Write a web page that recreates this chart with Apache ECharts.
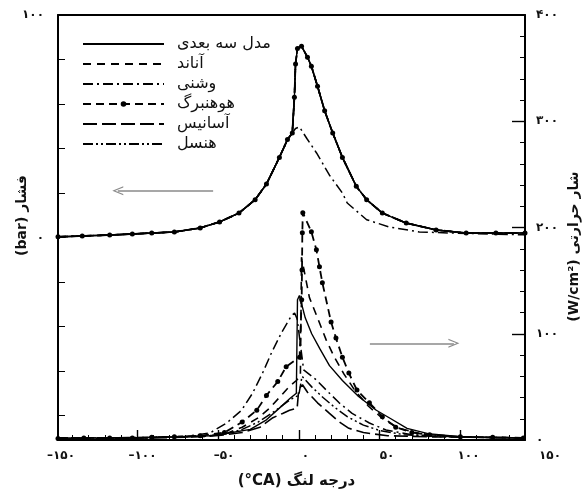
<!DOCTYPE html>
<html><head><meta charset="utf-8">
<script src="https://cdn.jsdelivr.net/npm/echarts@6/dist/echarts.min.js"></script>
<style>html,body{margin:0;padding:0;background:#fff}#c{width:584px;height:496px}</style>
</head><body><div id="c"></div>
<script>
// ---- tick labels / names ----
const xTickLabels = [-150, -100, -50, 0, 50, 100, 150];
const xMinorTicks = [-140,-130,-120,-110,-100,-90,-80,-70,-60,-50,-40,-30,-20,-10,0,10,20,30,40,50,60,70,80,90,100,110,120,130];
const xMajorTicks = [-100, -50, 0, 50, 100];
const pressureTicks = [-80,-60,-40,-20,0,20,40,60,80,100];
const pressureTickLabels = [0, 100];
const fluxMinorTicks = [20,40,60,80,120,140,160,180,220,240,260,280,320,340,360,380];
const fluxMajorTicks = [100, 200, 300];
const fluxTickLabels = [0, 100, 200, 300, 400];
const legendNames = ['مدل سه بعدی', 'آناند', 'وشنی', 'هوهنبرگ', 'آسانیس', 'هنسل'];
const xName = '(°CA) درجه لنگ';
const pressureName = '(bar) فشار';
const fluxName = '(W/cm²) شار حرارتی';

// ---- pressure (bar) vs crank angle ----
const pressureMain = [[-149,0.3],[-134,0.7],[-117,1.1],[-103,1.6],[-91,2.0],[-77,2.5],[-61,4.3],[-49,7],[-37,11],[-27,17],[-20,24],[-12,36],[-7,44],[-4,47],[-2.7,63],[-2,78],[-0.8,85],[1.7,86],[5.4,81],[7.8,77],[11.6,68],[16,57],[21,47],[27,36],[35.6,23],[42,17],[51.7,11],[66.5,6.5],[85,3.4],[103.6,2],[122,2],[140,2]];
const pressureWoschni = [[-149,0.3],[-134,0.7],[-117,1.1],[-103,1.6],[-91,2.0],[-77,2.5],[-61,4.3],[-49,7],[-37,11],[-27,17],[-20,24],[-12,36],[-7,44],[-4,47],[-2,49],[0.4,49.7],[5,44.5],[11,38],[19,28],[27,20],[30,15.5],[42,8],[56,4.7],[74.6,2.5],[95,2],[140,1.2]];

// ---- heat flux (W/cm2) vs crank angle ----
const flux3D = [[-149,2],[-120,2],[-90,2.5],[-70,3],[-55,4],[-43,6.6],[-30,10],[-20,19],[-12,30],[-5.5,39],[-1.5,44],[-1,45],[-0.8,132],[0.4,136],[4,115],[8,100],[13,86],[19,70],[27,56],[37,41],[48,28],[57,20],[67,11],[80,6],[100,3],[120,2],[139,2]];
const fluxAnnand = [[-149,2],[-120,2],[-90,2.5],[-70,3],[-55,4],[-45,6],[-35,12],[-25,21],[-18,30],[-12,40],[-6,50],[-1.5,56],[1,60],[1.7,172],[6.6,134],[11.6,115],[17,94],[22,78],[28,62],[35,46],[43,32],[52,20],[62,11],[75,6],[95,3],[139,2]];
const fluxWoschni = [[-149,2],[-120,2],[-90,2.5],[-70,3.5],[-55,6.6],[-44.6,16],[-35.4,28],[-28.6,44],[-22.4,63],[-16.9,82],[-10.7,101],[-4.5,117],[-2.6,119.5],[-1,114],[3,66],[10.9,56.5],[17,47],[25,35],[33,25],[43.7,16],[54,9.4],[70,5],[100,3],[139,2]];
const fluxHohenberg = [[-149,1.5],[-133,2],[-117,2],[-103,2],[-91,2.5],[-77,3],[-61,4],[-46,7],[-35,17],[-26,28],[-20,42],[-13,55],[-7.8,69],[0.5,78],[1.8,132],[2,160],[2.2,195],[2.5,214],[7.8,196],[10.9,179],[12.8,163],[14.6,148],[20,111],[23,96],[27,78],[31,63],[36,47],[43.7,35],[51.7,22],[60,12],[70,7],[81,5],[100,3],[120,2.5],[139,2]];
const fluxAssanis = [[-149,1],[-120,1.5],[-90,2],[-60,3],[-45,5],[-35,7],[-24,12],[-16,21],[-10,25],[-5.7,28],[-1,30],[0,48],[2.3,52],[5.4,45],[11.6,35],[19,25],[25,17],[31,11],[40,7],[55,4],[80,3],[139,2]];
const fluxHensel = [[-149,2],[-100,2],[-70,3],[-55,4],[-45,6],[-35,10],[-25,17],[-15,27],[-8,35],[-3,40],[0,42],[2,60],[8,50],[15,40],[22,31],[30,22],[40,14],[50,9],[65,5],[90,3],[139,2]];

// ---- annotation arrows (data coordinates) ----
const arrowPressure = {from: -53, to: -112, y: 21};
const arrowFlux = {from: 44, to: 96, y: 91};

const FONT = 'DejaVu Sans';
function fa(v) {
  const s = String(Math.abs(v)).replace(/\d/g, d => '۰۱۲۳۴۵۶۷۸۹'[d]);
  return v < 0 ? '–' + s : s;
}
const chevron = 'path://M0,10 L5,0 L10,10 L8.6,10 L5,2.6 L1.4,10 Z';

const styles = {
  solid: {color:'#000', width:1.4, type:'solid'},
  annand: {color:'#000', width:1.6, type:[8,6]},
  woschni: {color:'#000', width:1.5, type:[10,4,2,4]},
  hohen: {color:'#000', width:1.8, type:[8,5]},
  assanis: {color:'#000', width:1.6, type:[14,5]},
  hensel: {color:'#000', width:1.5, type:[10,3,2,3,2,3]}
};

function line(name, data, yIdx, ls, dots) {
  return {
    name, type:'line', xAxisIndex:0, yAxisIndex:yIdx, data,
    symbol: dots ? 'circle' : 'none', symbolSize: 5, showSymbol: !!dots,
    lineStyle: ls, itemStyle:{color: dots ? '#000' : 'rgba(0,0,0,0)'}, color:'#000',
    animation:false, silent:true
  };
}

const series = [
  line(legendNames[0], flux3D, 1, styles.solid),
  line(legendNames[1], fluxAnnand, 1, styles.annand),
  line(legendNames[2], fluxWoschni, 1, styles.woschni),
  line(legendNames[3], fluxHohenberg, 1, styles.hohen, true),
  line(legendNames[4], fluxAssanis, 1, styles.assanis),
  line(legendNames[5], fluxHensel, 1, styles.hensel),
  line(legendNames[0], pressureMain, 0, styles.solid),
  line(legendNames[1], pressureMain, 0, styles.annand),
  line(legendNames[3], pressureMain, 0, styles.hohen, true),
  line(legendNames[4], pressureMain, 0, styles.assanis),
  line(legendNames[5], pressureMain, 0, styles.hensel),
  line(legendNames[2], pressureWoschni, 0, styles.woschni)
];
const arrowMark = (a) => ({
  silent:true, animation:false, symbol:['none', chevron], symbolSize:[9,11],
  label:{show:false}, lineStyle:{color:'#8a8a8a', width:1.6, type:'solid'},
  data:[[{coord:[a.from, a.y]}, {coord:[a.to, a.y]}]]
});
series[6].markLine = arrowMark(arrowPressure);
series[0].markLine = arrowMark(arrowFlux);

const axLine = {onZero:false, lineStyle:{color:'#000', width:2}};
const noLine = {show:false, onZero:false};
const labelStyle = {fontFamily:FONT, fontWeight:'bold', fontSize:12, color:'#111'};
const nameStyle = {fontFamily:FONT, fontWeight:'bold', fontSize:14, color:'#111'};

const option = {
  backgroundColor:'#fff',
  animation:false,
  grid:[
    {left:58, right:59, top:15, bottom:56, containLabel:false, outerBoundsMode:'none'},
    {left:61, right:34, top:15, bottom:56, containLabel:false, outerBoundsMode:'none'}
  ],
  legend:{
    orient:'vertical', left:77, top:31, itemWidth:81, itemHeight:7, itemGap:4,
    data:legendNames, selectedMode:false,
    textStyle:{fontFamily:FONT, fontSize:16, color:'#111', padding:[0,0,0,8]}
  },
  xAxis:[
    {gridIndex:0, type:'value', min:-149, max:140, position:'bottom', axisLine:axLine,
     axisTick:{inside:true, length:5, customValues:xMinorTicks, lineStyle:{color:'#000', width:1}},
     axisLabel:{show:false}, splitLine:{show:false},
     name:xName, nameLocation:'middle', nameGap:34, nameMoveOverlap:false,
     nameTextStyle:Object.assign({padding:[0,0,0,10], fontSize:15}, nameStyle, {fontSize:15})},
    {gridIndex:0, type:'value', min:-149, max:140, position:'bottom', axisLine:noLine,
     axisTick:{inside:true, length:10, customValues:xMajorTicks, lineStyle:{color:'#000', width:1.4}},
     axisLabel:{show:false}, splitLine:{show:false}},
    {gridIndex:0, type:'value', min:-149, max:140, position:'top', axisLine:axLine,
     axisTick:{show:false}, axisLabel:{show:false}, splitLine:{show:false}},
    {gridIndex:1, type:'value', min:-150, max:150, position:'bottom', axisLine:noLine,
     axisTick:{show:false}, splitLine:{show:false},
     axisLabel:Object.assign({customValues:xTickLabels, formatter:fa, margin:10}, labelStyle)}
  ],
  yAxis:[
    {gridIndex:0, type:'value', min:-91, max:100, position:'left', axisLine:axLine,
     axisTick:{inside:true, length:7, customValues:pressureTicks, lineStyle:{color:'#000', width:1}},
     axisLabel:Object.assign({customValues:pressureTickLabels, formatter:fa, margin:14}, labelStyle),
     splitLine:{show:false},
     name:pressureName, nameLocation:'middle', nameRotate:90, nameGap:29, nameMoveOverlap:false,
     nameTextStyle:Object.assign({padding:[0,0,0,24]}, nameStyle)},
    {gridIndex:0, type:'value', min:0, max:400, position:'right', axisLine:axLine,
     axisTick:{inside:true, length:5, customValues:fluxMinorTicks, lineStyle:{color:'#000', width:1}},
     axisLabel:Object.assign({customValues:fluxTickLabels, formatter:fa, margin:11}, labelStyle),
     splitLine:{show:false},
     name:fluxName, nameLocation:'middle', nameRotate:90, nameGap:42, nameMoveOverlap:false,
     nameTextStyle:Object.assign({padding:[0,38,0,0]}, nameStyle)},
    {gridIndex:0, type:'value', min:0, max:400, position:'right', axisLine:noLine,
     axisTick:{inside:true, length:13, customValues:fluxMajorTicks, lineStyle:{color:'#000', width:1.4}},
     axisLabel:{show:false}, splitLine:{show:false}},
    {gridIndex:1, type:'value', min:0, max:1, show:false}
  ],
  series
};
const chart = echarts.init(document.getElementById('c'), null, {renderer:'canvas'});
chart.setOption(option);
</script></body></html>
